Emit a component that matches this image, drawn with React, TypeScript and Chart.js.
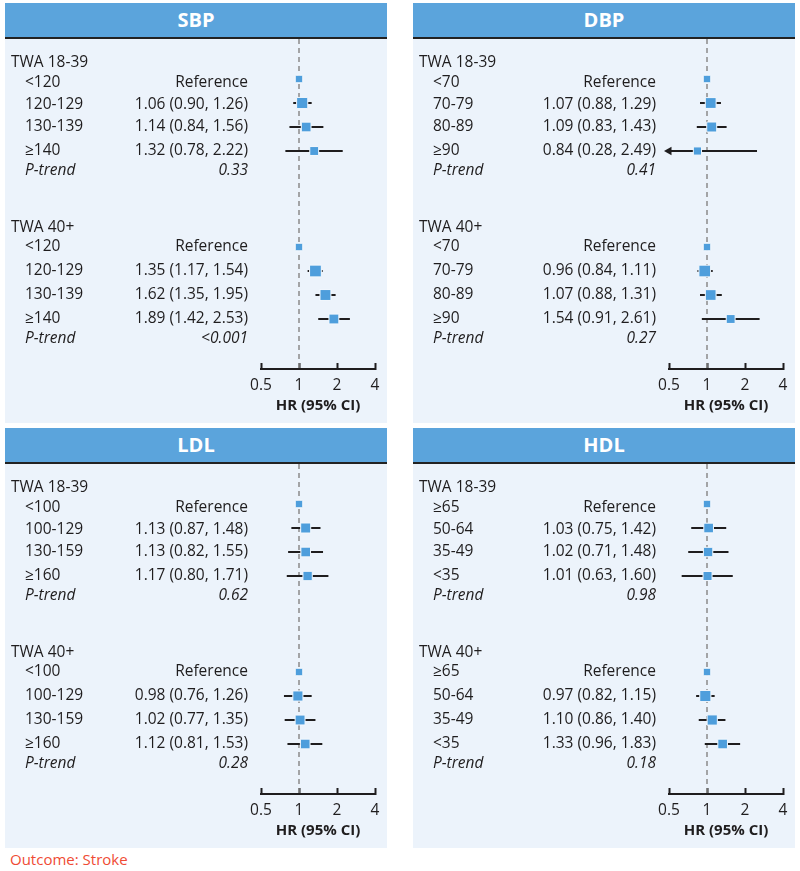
import React, { useEffect, useRef } from 'react';
import { Chart, registerables } from 'chart.js';

Chart.register(...registerables);

// ---------- Data ----------
const groupLabels = ['TWA 18-39', 'TWA 40+'];
const axisTicks = [0.5, 1, 2, 4];
const axisTitle = 'HR (95% CI)';
const outcomeLabel = 'Outcome: Stroke';

// SBP
const sbpCategories = ['<120', '120-129', '130-139', '≥140'];
const sbpYoungHR = [1, 1.06, 1.14, 1.32];
const sbpYoungLow = [1, 0.9, 0.84, 0.78];
const sbpYoungHigh = [1, 1.26, 1.56, 2.22];
const sbpYoungP = '0.33';
const sbpOldHR = [1, 1.35, 1.62, 1.89];
const sbpOldLow = [1, 1.17, 1.35, 1.42];
const sbpOldHigh = [1, 1.54, 1.95, 2.53];
const sbpOldP = '<0.001';

// DBP
const dbpCategories = ['<70', '70-79', '80-89', '≥90'];
const dbpYoungHR = [1, 1.07, 1.09, 0.84];
const dbpYoungLow = [1, 0.88, 0.83, 0.28];
const dbpYoungHigh = [1, 1.29, 1.43, 2.49];
const dbpYoungP = '0.41';
const dbpOldHR = [1, 0.96, 1.07, 1.54];
const dbpOldLow = [1, 0.84, 0.88, 0.91];
const dbpOldHigh = [1, 1.11, 1.31, 2.61];
const dbpOldP = '0.27';

// LDL
const ldlCategories = ['<100', '100-129', '130-159', '≥160'];
const ldlYoungHR = [1, 1.13, 1.13, 1.17];
const ldlYoungLow = [1, 0.87, 0.82, 0.8];
const ldlYoungHigh = [1, 1.48, 1.55, 1.71];
const ldlYoungP = '0.62';
const ldlOldHR = [1, 0.98, 1.02, 1.12];
const ldlOldLow = [1, 0.76, 0.77, 0.81];
const ldlOldHigh = [1, 1.26, 1.35, 1.53];
const ldlOldP = '0.28';

// HDL
const hdlCategories = ['≥65', '50-64', '35-49', '<35'];
const hdlYoungHR = [1, 1.03, 1.02, 1.01];
const hdlYoungLow = [1, 0.75, 0.71, 0.63];
const hdlYoungHigh = [1, 1.42, 1.48, 1.6];
const hdlYoungP = '0.98';
const hdlOldHR = [1, 0.97, 1.1, 1.33];
const hdlOldLow = [1, 0.82, 0.86, 0.96];
const hdlOldHigh = [1, 1.15, 1.4, 1.83];
const hdlOldP = '0.18';

// ---------- Types / layout constants ----------
type Group = { hr: number[]; low: number[]; high: number[]; p: string };
type PanelSpec = { title: string; categories: string[]; groups: Group[] };

const panels: PanelSpec[] = [
  {
    title: 'SBP',
    categories: sbpCategories,
    groups: [
      { hr: sbpYoungHR, low: sbpYoungLow, high: sbpYoungHigh, p: sbpYoungP },
      { hr: sbpOldHR, low: sbpOldLow, high: sbpOldHigh, p: sbpOldP },
    ],
  },
  {
    title: 'DBP',
    categories: dbpCategories,
    groups: [
      { hr: dbpYoungHR, low: dbpYoungLow, high: dbpYoungHigh, p: dbpYoungP },
      { hr: dbpOldHR, low: dbpOldLow, high: dbpOldHigh, p: dbpOldP },
    ],
  },
  {
    title: 'LDL',
    categories: ldlCategories,
    groups: [
      { hr: ldlYoungHR, low: ldlYoungLow, high: ldlYoungHigh, p: ldlYoungP },
      { hr: ldlOldHR, low: ldlOldLow, high: ldlOldHigh, p: ldlOldP },
    ],
  },
  {
    title: 'HDL',
    categories: hdlCategories,
    groups: [
      { hr: hdlYoungHR, low: hdlYoungLow, high: hdlYoungHigh, p: hdlYoungP },
      { hr: hdlOldHR, low: hdlOldLow, high: hdlOldHigh, p: hdlOldP },
    ],
  },
];

const FONT = '"Open Sans", "Noto Sans", sans-serif';
const TEXT = '#1f1d1e';
const HEADER_BLUE = '#5ba4dc';
const BODY_BG = '#ecf3fb';
const MARKER = '#4e9edc';
const FS = 15.5;

const PANEL_W = 382;
const HEADER_H = 34;
const CANVAS_H = 384;
const Y_MIN = -1.667;
const Y_MAX = 12.083;
const GROUP_BASE = [0, 7];
const HEADER_OFFSET = [-0.67, -0.83];
const P_OFFSET = 3.8;
// small vertical nudges of the row texts (in row units), as in the original figure
const TEXT_NUDGE = [
  [0.16, 0.08, 0, 0],
  [0, 0, 0, 0],
];
const X_MIN = 0.5;
const X_MAX = 4;

function fmt(v: number) {
  return v.toFixed(2);
}

function Panel({ spec, left, top }: { spec: PanelSpec; left: number; top: number }) {
  const ref = useRef<HTMLCanvasElement>(null);

  useEffect(() => {
    const canvas = ref.current;
    if (!canvas) return;

    const markerPts: { x: number; y: number }[] = [];
    const markerRadii: number[] = [];
    const ciSets: any[] = [];

    spec.groups.forEach((g, gi) => {
      g.hr.forEach((v, i) => {
        const y = GROUP_BASE[gi] + i;
        markerPts.push({ x: v, y });
        if (i === 0) {
          markerRadii.push(7.5 / Math.SQRT2);
        } else {
          const w = Math.log(g.high[i] / g.low[i]);
          const side = 7.5 + 1.6 / (w + 0.1);
          markerRadii.push(side / Math.SQRT2);
          const clipped = g.low[i] < X_MIN;
          const lo = clipped ? X_MIN : g.low[i];
          ciSets.push({
            type: 'line',
            data: [
              { x: lo, y },
              { x: g.high[i], y },
            ],
            borderColor: TEXT,
            borderWidth: 2,
            pointRadius: [clipped ? 5 : 0, 0],
            pointStyle: 'triangle',
            rotation: 270,
            pointBackgroundColor: TEXT,
            pointBorderColor: TEXT,
            pointBorderWidth: 0,
            order: 1,
            clip: false,
          });
        }
      });
    });

    const textPlugin = {
      id: 'rowText',
      afterDraw(chart: any) {
        const ctx = chart.ctx as CanvasRenderingContext2D;
        const ys = chart.scales.y;
        ctx.save();
        ctx.fillStyle = TEXT;
        ctx.textBaseline = 'middle';
        spec.groups.forEach((g, gi) => {
          const base = GROUP_BASE[gi];
          ctx.font = `500 ${FS}px ${FONT}`;
          ctx.textAlign = 'left';
          ctx.fillText(groupLabels[gi], 6, ys.getPixelForValue(base + HEADER_OFFSET[gi]));
          g.hr.forEach((v, i) => {
            const yp = ys.getPixelForValue(base + i + TEXT_NUDGE[gi][i]);
            ctx.textAlign = 'left';
            ctx.fillText(spec.categories[i], 20, yp);
            ctx.textAlign = 'right';
            const txt = i === 0 ? 'Reference' : `${fmt(v)} (${fmt(g.low[i])}, ${fmt(g.high[i])})`;
            ctx.fillText(txt, 243, yp);
          });
          const pp = ys.getPixelForValue(base + P_OFFSET);
          ctx.font = `italic 500 ${FS}px ${FONT}`;
          ctx.textAlign = 'left';
          ctx.fillText('P-trend', 20, pp);
          ctx.textAlign = 'right';
          ctx.fillText(g.p, 243, pp);
        });
        ctx.restore();
      },
    };

    const chart = new Chart(canvas, {
      type: 'scatter',
      data: {
        datasets: [
          {
            type: 'scatter',
            data: markerPts,
            pointStyle: 'rect',
            pointRadius: markerRadii,
            pointBackgroundColor: MARKER,
            pointBorderColor: '#f4f8fd',
            pointBorderWidth: 1,
            order: 0,
            clip: false,
          } as any,
          ...ciSets,
          {
            type: 'line',
            data: [
              { x: 1, y: Y_MIN },
              { x: 1, y: Y_MAX },
            ],
            borderColor: '#8a8a8a',
            borderWidth: 1.5,
            borderDash: [5, 4],
            pointRadius: 0,
            order: 2,
          },
        ],
      },
      options: {
        responsive: false,
        animation: false,
        devicePixelRatio: 1,
        layout: { autoPadding: false, padding: { left: 256, right: 12, top: 0, bottom: 0 } },
        plugins: { legend: { display: false }, tooltip: { enabled: false } },
        scales: {
          x: {
            type: 'logarithmic',
            min: X_MIN,
            max: X_MAX,
            position: 'bottom',
            afterBuildTicks: (s: any) => {
              s.ticks = axisTicks.map((v) => ({ value: v }));
            },
            afterFit: (s: any) => {
              s.height = 54;
              s.paddingLeft = 0;
              s.paddingRight = 0;
            },
            ticks: {
              callback: (v: any) => String(v),
              padding: 13,
              color: TEXT,
              font: { family: FONT, size: FS, weight: '500' },
              maxRotation: 0,
              autoSkip: false,
            },
            grid: {
              drawOnChartArea: false,
              drawTicks: true,
              tickLength: -6,
              tickColor: TEXT,
              tickWidth: 2,
            },
            border: { display: true, color: TEXT, width: 2 },
            title: {
              display: true,
              text: axisTitle,
              color: TEXT,
              font: { family: FONT, size: 15, weight: 'bold', lineHeight: 1.2 },
              padding: { top: 0, bottom: 8 },
            },
          },
          y: { type: 'linear', reverse: true, min: Y_MIN, max: Y_MAX, display: false },
        },
      } as any,
      plugins: [textPlugin],
    });
    return () => chart.destroy();
  }, [spec]);

  return (
    <div
      style={{
        position: 'absolute',
        left,
        top,
        width: PANEL_W,
        height: HEADER_H + 2 + CANVAS_H,
        background: BODY_BG,
      }}
    >
      <div
        style={{
          height: HEADER_H,
          lineHeight: `${HEADER_H}px`,
          background: HEADER_BLUE,
          color: '#fff',
          fontWeight: 700,
          fontSize: 20,
          textAlign: 'center',
          fontFamily: FONT,
          borderBottom: '2px solid #222',
        }}
      >
        {spec.title}
      </div>
      <canvas ref={ref} width={PANEL_W} height={CANVAS_H} style={{ display: 'block', width: PANEL_W, height: CANVAS_H }} />
    </div>
  );
}

export default function App() {
  const positions = [
    { left: 5, top: 3 },
    { left: 413, top: 3 },
    { left: 5, top: 428 },
    { left: 413, top: 428 },
  ];
  return (
    <div style={{ position: 'absolute', left: 0, top: 0, width: 800, height: 871, background: '#fff', fontFamily: FONT }}>
      {panels.map((p, i) => (
        <Panel key={p.title} spec={p} left={positions[i].left} top={positions[i].top} />
      ))}
      <div style={{ position: 'absolute', left: 10, top: 849, color: '#ef4b34', fontSize: 15, fontWeight: 500, lineHeight: '20px' }}>
        {outcomeLabel}
      </div>
    </div>
  );
}
